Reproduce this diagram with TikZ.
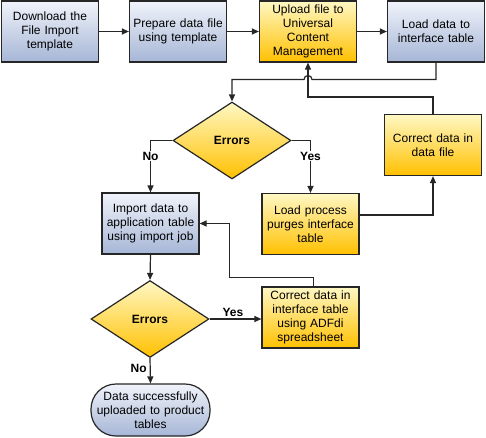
\documentclass[tikz,border=0pt]{standalone}
\usepackage{fontspec}
\setmainfont{Liberation Sans}
\usetikzlibrary{shapes.geometric,arrows.meta,calc}
\definecolor{bluetop}{HTML}{F0F3FA}
\definecolor{bluebot}{HTML}{A6B6D6}
\definecolor{yeltop}{HTML}{FFF8C4}
\definecolor{yelbot}{HTML}{FFC000}
\definecolor{linec}{HTML}{262626}
\tikzset{
  base/.style={draw=linec, line width=1.2pt, align=center, inner sep=2pt,
    font=\fontsize{12}{14}\selectfont},
  bluebox/.style={base, rectangle, top color=bluetop, bottom color=bluebot,
    minimum width=97pt, minimum height=61pt, text width=90pt},
  yelbox/.style={base, rectangle, top color=yeltop, bottom color=yelbot,
    minimum width=97pt, minimum height=61pt, text width=90pt},
  decision/.style={base, diamond, aspect=1.53, inner sep=0pt, top color=yeltop, bottom color=yelbot,
    minimum width=118pt, minimum height=77pt, font=\fontsize{12}{14}\selectfont\bfseries},
  terminal/.style={base, rectangle, rounded corners=25pt, top color=bluetop, bottom color=bluebot,
    minimum width=119pt, minimum height=52pt, text width=112pt},
  conn/.style={draw=linec, line width=1.2pt},
  arr/.style={conn, -{Triangle[length=7pt,width=6pt]}},
  lbl/.style={font=\fontsize{12}{14}\selectfont\bfseries, inner sep=1pt},
}
\begin{document}
\begin{tikzpicture}[x=1pt,y=-1pt]
\useasboundingbox (0,0) rectangle (486,437);
\node[bluebox] (dl) at (50,31.5) {Download the\\File Import\\template};
\node[bluebox] (prep) at (178,31.5) {Prepare data file\\using template};
\node[yelbox] (upl) at (308,31.5) {Upload file to\\Universal\\Content\\Management};
\node[bluebox] (load) at (436,31.5) {Load data to\\interface table};
\node[decision] (err1) at (232,140.5) {Errors};
\node[yelbox] (cdf) at (433,145) {Correct data in\\data file};
\node[bluebox] (imp) at (150.5,223.5) {Import data to\\application table\\using import job};
\node[yelbox] (purge) at (310.5,224) {Load process\\purges interface\\table};
\node[decision] (err2) at (150,319) {Errors};
\node[yelbox] (cit) at (310.5,317.5) {Correct data in\\interface table\\using ADFdi\\spreadsheet};
\node[terminal] (term) at (150.5,410) {Data successfully\\uploaded to product\\tables};

\coordinate (hopR) at ($(upl.south |- 0,79.5)+(4,0)$);
\draw[arr] (dl.east) -- (prep.west);
\draw[arr] (prep.east) -- (upl.west);
\draw[arr] (upl.east) -- (load.west);
\draw[arr] (load.south) |- (hopR) arc[start angle=0,end angle=-180,radius=4] -| (err1.north);
\draw[arr] (cdf.north) -- ++(0,-17) -| (upl.south);
\draw[arr] (err1.west) -| node[lbl, fill=white, pos=0.65] {No} (imp.north);
\draw[arr] (err1.east) -| node[lbl, fill=white, pos=0.65] {Yes} (purge.north);
\draw[arr] ($(purge.east)+(0,-9)$) -| (cdf.south);
\draw[arr] (imp.south) -- (err2.north);
\draw[arr] (err2.east) -- node[lbl, above, pos=0.45, yshift=1pt] {Yes} (err2.east -| cit.west);
\draw[arr] ($(cit.north)+(3,0)$) -- ++(0,-9) -| ($(imp.east)+(30,0)$) -- (imp.east);
\draw[arr] (err2.south) -- node[lbl, left, pos=0.4, xshift=-2pt] {No} (term.north);
\end{tikzpicture}
\end{document}
